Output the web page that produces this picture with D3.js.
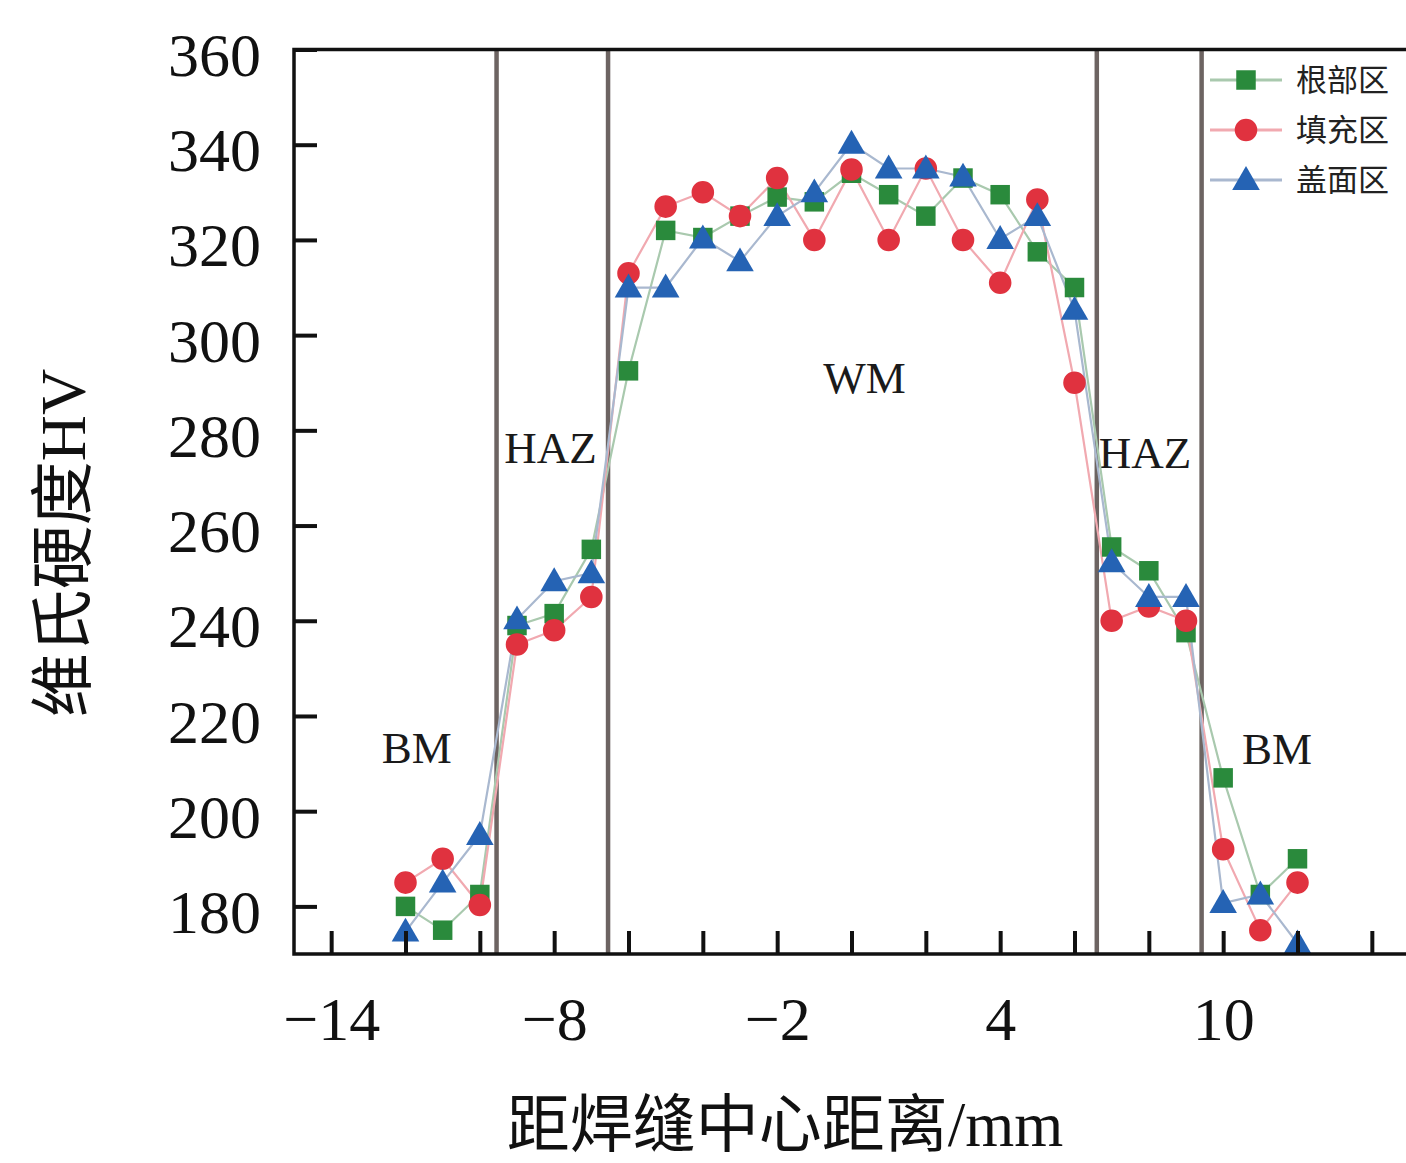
<!DOCTYPE html>
<html>
<head>
<meta charset="utf-8">
<script src="https://cdn.jsdelivr.net/npm/d3@7"></script>
<style>
  html, body { margin: 0; padding: 0; background: #ffffff; }
  svg { display: block; }
</style>
</head>
<body>
<svg id="chart" width="1406" height="1163"></svg>
<script>
// ---- data ----
const positions = [-12, -11, -10, -9, -8, -7, -6, -5, -4, -3, -2, -1, 0, 1, 2, 3, 4, 5, 6, 7, 8, 9, 10, 11, 12];
const rootZone   = [180, 175, 182.5, 239, 241.5, 255, 292.5, 322, 320.5, 325, 329, 328, 334, 329.5, 325, 333, 329.5, 317.5, 310, 255.5, 250.5, 237.5, 207, 182.5, 190];
const fillZone   = [185, 190, 180.3, 235, 238, 245, 313, 327, 330, 325, 333, 320, 334.8, 320, 335, 320, 311, 328.5, 290, 240, 243, 240, 192, 175, 185];
const capZone    = [174.7, 185, 195, 240.3, 248.3, 250, 310, 310, 320.3, 315.5, 325, 330, 340.2, 335, 335, 333.3, 320.2, 325, 305.3, 252.3, 245, 245, 180.7, 182.5, 172.2];
const seriesNames = ["根部区", "填充区", "盖面区"];
const zoneBoundaries = [-9.55, -6.55, 6.6, 9.42];
const zoneLabels = ["BM", "HAZ", "WM", "HAZ", "BM"];
const zoneLabelX = [-11.7, -8.1, 0.35, 7.9, 11.45];
const zoneLabelY = [210.2, 273.2, 287.9, 272.1, 209.9];
const xTicks = [-14, -12, -10, -8, -6, -4, -2, 0, 2, 4, 6, 8, 10, 12, 14];
const xTickLabels = [-14, -8, -2, 4, 10];
const yTicks = [180, 200, 220, 240, 260, 280, 300, 320, 340, 360];
const xTitle = "距焊缝中心距离/mm";
const yTitle = "维氏硬度HV";

// ---- setup ----
const svg = d3.select("#chart");
const serif = "'Liberation Serif', 'Times New Roman', 'Noto Sans CJK SC', serif";
const x = d3.scaleLinear().domain([-15, 15]).range([294, 1409]);
const y = d3.scaleLinear().domain([170, 360]).range([954, 49.5]);

const markerColors = ["#2a8a3c", "#e0323f", "#2563b4"];
const lineColors = ["#a9c9ae", "#f1a9b0", "#a9b8cf"];
const shapes = [d3.symbolSquare, d3.symbolCircle, d3.symbolTriangle];
const sizes = [380, 400, 330];

// zone boundary lines
svg.append("g").selectAll("line").data(zoneBoundaries).join("line")
  .attr("x1", d => x(d)).attr("x2", d => x(d))
  .attr("y1", y(360)).attr("y2", y(170))
  .attr("stroke", "#6d6462").attr("stroke-width", 4.5);

// zone labels
svg.append("g").selectAll("text").data(zoneLabels).join("text")
  .attr("x", (d, i) => x(zoneLabelX[i]))
  .attr("y", (d, i) => y(zoneLabelY[i]))
  .attr("text-anchor", "middle")
  .attr("font-family", serif)
  .attr("font-size", 45)
  .attr("fill", "#1a1a1a")
  .text(d => d);

// series
const allSeries = [rootZone, fillZone, capZone];
const line = d3.line().x((d, i) => x(positions[i])).y(d => y(d));
allSeries.forEach((vals, s) => {
  svg.append("path").datum(vals)
    .attr("d", line)
    .attr("fill", "none")
    .attr("stroke", lineColors[s])
    .attr("stroke-width", 2.2);
});
allSeries.forEach((vals, s) => {
  svg.append("g").selectAll("path").data(vals).join("path")
    .attr("transform", (d, i) => `translate(${x(positions[i])},${y(d) + (s === 2 ? 2 : 0)})`)
    .attr("d", d3.symbol().type(shapes[s]).size(sizes[s]))
    .attr("fill", markerColors[s]);
});

// axes
const axisColor = "#111";
const yAxis = d3.axisLeft(y).tickValues(yTicks).tickSize(-23).tickPadding(33).tickFormat(d3.format("d"));
const gy = svg.append("g").attr("transform", `translate(${x(-15)},0)`).call(yAxis);
gy.select(".domain").remove();
gy.selectAll(".tick line").attr("stroke", axisColor).attr("stroke-width", 4);
gy.selectAll(".tick text").attr("font-family", serif).attr("font-size", 62).attr("fill", "#111").attr("dy", "0.42em");

const xAxis = d3.axisBottom(x).tickValues(xTicks).tickSize(-23).tickPadding(52)
  .tickFormat(d => xTickLabels.includes(d) ? d3.format("d")(d).replace("-", "−") : "");
const gx = svg.append("g").attr("transform", `translate(0,${y(170)})`).call(xAxis);
gx.select(".domain").remove();
gx.selectAll(".tick line").attr("stroke", axisColor).attr("stroke-width", 4);
gx.selectAll(".tick text").attr("font-family", serif).attr("font-size", 62).attr("fill", "#111").attr("dy", "0.55em");

// frame (left, bottom, top)
svg.append("path")
  .attr("d", `M${x(15)},${y(360)} H${x(-15)} V${y(170)} H${x(15)}`)
  .attr("fill", "none").attr("stroke", axisColor).attr("stroke-width", 3.5);

// legend
const legend = svg.append("g");
seriesNames.forEach((name, s) => {
  const ly = 80 + s * 50;
  legend.append("line")
    .attr("x1", 1210).attr("x2", 1282).attr("y1", ly).attr("y2", ly)
    .attr("stroke", lineColors[s]).attr("stroke-width", 3);
  legend.append("path")
    .attr("transform", `translate(1246,${ly + (s === 2 ? 2 : 0)})`)
    .attr("d", d3.symbol().type(shapes[s]).size(sizes[s]))
    .attr("fill", markerColors[s]);
  legend.append("text")
    .attr("x", 1296).attr("y", ly + 11)
    .attr("font-family", serif).attr("font-size", 31).attr("fill", "#222")
    .text(name);
});

// axis titles
svg.append("text")
  .attr("x", 785).attr("y", 1146)
  .attr("text-anchor", "middle")
  .attr("font-family", serif).attr("font-size", 63).attr("fill", "#111")
  .text(xTitle);
svg.append("text")
  .attr("transform", "translate(85,543) rotate(-90)")
  .attr("text-anchor", "middle")
  .attr("font-family", serif).attr("font-size", 64).attr("fill", "#111")
  .text(yTitle);
</script>
</body>
</html>
